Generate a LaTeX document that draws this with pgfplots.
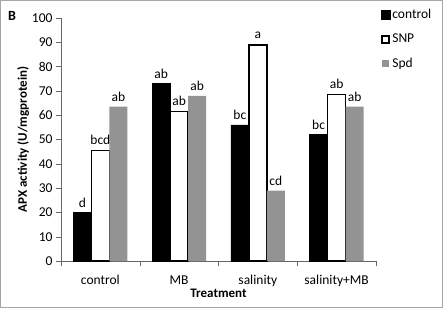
\documentclass[border=0pt]{standalone}
\usepackage{pgfplots}
\pgfplotsset{compat=1.18}
\usepackage{fontspec}
\setmainfont{Carlito}
\begin{document}
\begin{tikzpicture}[x=1pt,y=1pt]
\path[use as bounding box] (0,0) rectangle (443,308);
\draw[gray!70, line width=1pt] (0.5,0.5) rectangle (442.5,307.5);
\node[font=\fontsize{14}{16}\selectfont\bfseries, anchor=center] at (12,292) {B};
\begin{axis}[
  at={(61pt,47pt)}, anchor=south west,
  scale only axis, width=315pt, height=243pt,
  ybar=0pt, bar width=18pt,
  xmin=-0.5, xmax=3.5, ymin=0, ymax=100,
  axis x line*=bottom, axis y line*=left,
  axis line style={gray!80!black},
  ytick={0,10,...,100},
  xtick={0,1,2,3},
  xticklabels={control,MB,salinity,salinity+MB},
  minor xtick={-0.5,0.5,1.5,2.5,3.5},
  major x tick style={draw=none},
  minor tick length=5pt,
  major tick length=5pt,
  tick align=outside,
  tick style={gray!80!black},
  /pgf/number format/assume math mode=true,
  tick label style={font=\fontsize{13.5}{15}\selectfont},
  xticklabel style={yshift=-6pt},
  ylabel={\textbf{APX activity (U/mgprotein)}},
  xlabel={\textbf{Treatment}},
  label style={font=\fontsize{13}{15}\selectfont},
  ylabel style={yshift=-4pt},
  xlabel style={yshift=5pt},
  point meta=explicit symbolic,
  nodes near coords,
  nodes near coords style={font=\fontsize{13.5}{15}\selectfont, anchor=south, inner sep=1pt, yshift=4pt},
  legend style={at={(1.015,1.045)}, anchor=north west, draw=none, fill=none,
    font=\fontsize{13.5}{15}\selectfont, row sep=10pt, inner sep=0pt},
  legend cell align=left,
]
\addplot[fill=black, draw=black,
  legend image code/.code={\draw[fill=black,draw=black] (0pt,-4.5pt) rectangle (9pt,4.5pt);}]
  coordinates {(0,20) [d] (1,73) [ab] (2,56) [bc] (3,52) [bc]};
\addplot[fill=white, draw=black, line width=1.6pt,
  legend image code/.code={\draw[fill=white,draw=black,line width=2pt] (1pt,-3.5pt) rectangle (8pt,3.5pt);}]
  coordinates {(0,45.5) [bcd] (1,61.5) [ab] (2,89) [a] (3,68.5) [ab]};
\addplot[fill=gray!85, draw=none,
  legend image code/.code={\fill[gray!85] (1pt,-3.5pt) rectangle (8pt,3.5pt);}]
  coordinates {(0,63.5) [ab] (1,68) [ab] (2,29) [cd] (3,63.5) [ab]};
\legend{control,SNP,Spd}
\end{axis}
\end{tikzpicture}
\end{document}
